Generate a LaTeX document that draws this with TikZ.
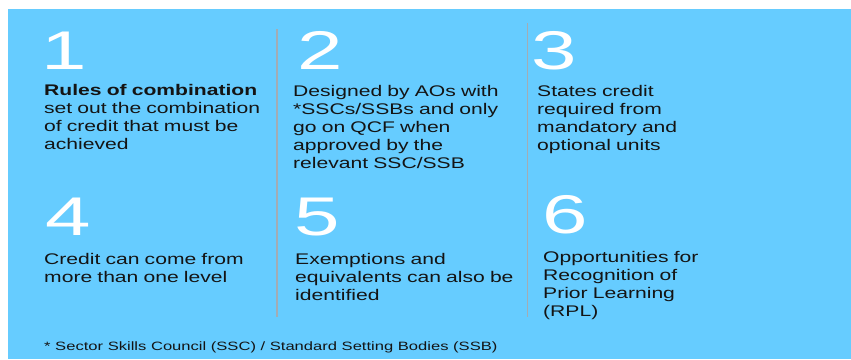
\documentclass[tikz,border=0pt]{standalone}
\usepackage{fontspec}
\setmainfont{Liberation Sans}[FakeStretch=1.37]
\newfontfamily\numfont{Liberation Sans}[FakeStretch=1.5]
\definecolor{bgblue}{HTML}{66CCFF}
\definecolor{divgray}{HTML}{A3ACB4}
\definecolor{txt}{HTML}{141414}
\begin{document}
\begin{tikzpicture}[x=1pt,y=-1pt,
  num/.style={anchor=base west, inner sep=0pt, text=white, font=\numfont\fontsize{54.5}{60}\selectfont},
  body/.style={anchor=base west, inner sep=0pt, text=txt, text width=235pt, align=left, font=\fontsize{15.4}{18}\selectfont},
  foot/.style={anchor=base west, inner sep=0pt, text=txt, font=\fontsize{12.1}{15}\selectfont},
  divider/.style={draw=divgray, line width=1.4pt}]
\useasboundingbox (0,0) rectangle (851,359);
\fill[bgblue] (8,9) rectangle (851,359);
% dividers
\coordinate (d1t) at (277,29);
\coordinate (d1b) at (277,316.5);
\coordinate (d2t) at (527.5,23);
\coordinate (d2b) at (527.5,316.5);
\draw[divider] (d1t) -- (d1b);
\draw[divider] (d2t) -- (d2b);
% numbers
\node[num] (n1) at (41,69) {1};
\node[num] (n2) at (297.6,69) {2};
\node[num] (n3) at (531.6,69) {3};
\node[num] (n4) at (45,235) {4};
\node[num] (n5) at (294,235) {5};
\node[num] (n6) at (542.5,233) {6};
% texts
\node[body] (t1) at (44,95) {\textbf{Rules of combination}\\set out the combination\\of credit that must be\\achieved};
\node[body] (t2) at (293,96) {Designed by AOs with\\\relax{*}SSCs/SSBs and only\\go on QCF when\\approved by the\\relevant SSC/SSB};
\node[body] (t3) at (537,96) {States credit\\required from\\mandatory and\\optional units};
\node[body] (t4) at (44,264) {Credit can come from\\more than one level};
\node[body] (t5) at (295,264.7) {Exemptions and\\equivalents can also be\\identified};
\node[body] (t6) at (543,262.7) {Opportunities for\\Recognition of\\Prior Learning\\(RPL)};
\node[foot] (fn) at (44,350.5) {* Sector Skills Council (SSC) / Standard Setting Bodies (SSB)};
\end{tikzpicture}
\end{document}
